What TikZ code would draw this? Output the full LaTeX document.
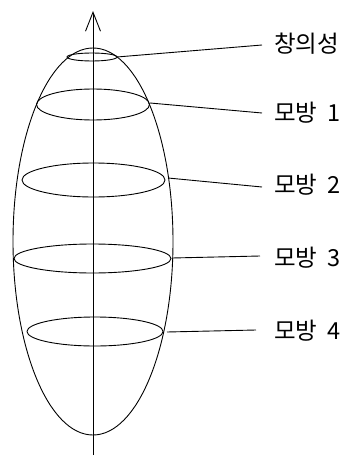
\documentclass[tikz,border=0pt]{standalone}
\usepackage{fontspec}
\newfontfamily\krfont{Noto Sans CJK KR}
\usetikzlibrary{arrows.meta}
\begin{document}
\begin{tikzpicture}[x=1pt,y=-1pt,
  line/.style={line width=0.9pt,black},
  lab/.style={anchor=west,inner sep=0pt,font=\krfont\fontsize{23.5}{23.5}\selectfont}]
\useasboundingbox (0,0) rectangle (343,457);
% axis
\coordinate (ab) at (93,455);
\coordinate (at) at (93,11);
\draw[line,-{Straight Barb[length=19pt,width=15pt,line width=0.9pt]}] (ab) -- (at);
% big ellipse
\draw[line] (93,241.5) ellipse [x radius=80, y radius=193.5];
% small ellipses
\draw[line] (92,57) ellipse [x radius=25, y radius=4];
\draw[line] (93,104.5) ellipse [x radius=56.5, y radius=15.5];
\draw[line] (93.5,180) ellipse [x radius=71.5, y radius=17];
\draw[line] (92.5,258.5) ellipse [x radius=78.5, y radius=14.5];
\draw[line] (95,331.5) ellipse [x radius=68, y radius=14.5];
% labels
\node[lab] (l0) at (274,44) {창의성};
\node[lab] (l1) at (274,113) {모방\hspace{0.45em}1};
\node[lab] (l2) at (274,185) {모방\hspace{0.45em}2};
\node[lab] (l3) at (274,258) {모방\hspace{0.45em}3};
\node[lab] (l4) at (274,331) {모방\hspace{0.45em}4};
% connector start points
\coordinate (c0) at (117,57);
\coordinate (c1) at (150,103);
\coordinate (c2) at (168,178);
\coordinate (c3) at (172,258);
\coordinate (c4) at (167,332);
\draw[line] (c0) -- ([xshift=-12pt,yshift=-1pt]l0.west);
\draw[line] (c1) -- ([xshift=-12pt]l1.west);
\draw[line] (c2) -- ([xshift=-12pt,yshift=-2pt]l2.west);
\draw[line] (c3) -- ([xshift=-14pt,yshift=2pt]l3.west);
\draw[line] (c4) -- ([xshift=-18pt,yshift=1pt]l4.west);
\end{tikzpicture}
\end{document}
